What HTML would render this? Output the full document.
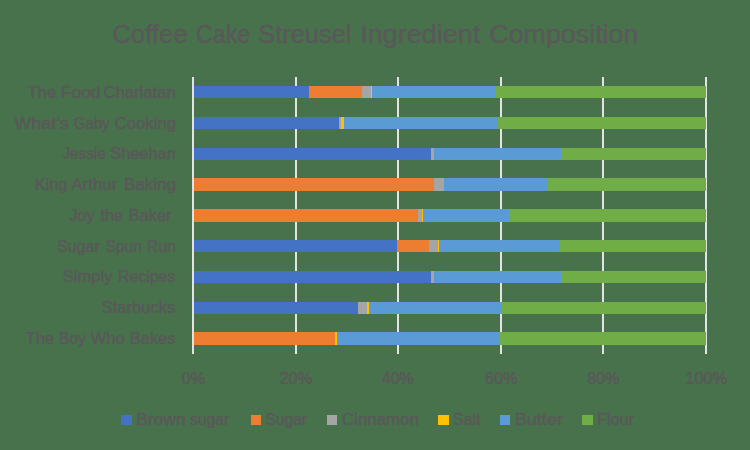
<!DOCTYPE html>
<html><head><meta charset="utf-8"><title>Coffee Cake Streusel Ingredient Composition</title>
<style>html,body{margin:0;padding:0;background:#48724C;}body{width:750px;height:450px;overflow:hidden;}svg{display:block;}text{font-family:"Liberation Sans",sans-serif;fill:#595959;stroke:#595959;stroke-width:0.5;stroke-linejoin:round;}</style></head><body>
<svg width="750" height="450" viewBox="0 0 750 450">
<rect x="0" y="0" width="750" height="450" fill="#48724C"/>
<g shape-rendering="crispEdges">
<rect x="295" y="77" width="2" height="277" fill="#E3E3E3"/>
<rect x="397" y="77" width="2" height="277" fill="#E3E3E3"/>
<rect x="500" y="77" width="2" height="277" fill="#E3E3E3"/>
<rect x="602" y="77" width="2" height="277" fill="#E3E3E3"/>
<rect x="705" y="77" width="2" height="277" fill="#E3E3E3"/>
<rect x="194" y="86" width="115" height="12" fill="#4472C4"/>
<rect x="309" y="86" width="53" height="12" fill="#ED7D31"/>
<rect x="362" y="86" width="9" height="12" fill="#A5A5A5"/>
<rect x="371" y="86" width="1" height="12" fill="#FFC000"/>
<rect x="372" y="86" width="123" height="12" fill="#5B9BD5"/>
<rect x="495" y="86" width="211" height="12" fill="#70AD47"/>
<rect x="194" y="117" width="145" height="12" fill="#4472C4"/>
<rect x="339" y="117" width="2" height="12" fill="#A5A5A5"/>
<rect x="341" y="117" width="3" height="12" fill="#FFC000"/>
<rect x="344" y="117" width="154" height="12" fill="#5B9BD5"/>
<rect x="498" y="117" width="208" height="12" fill="#70AD47"/>
<rect x="194" y="148" width="237" height="12" fill="#4472C4"/>
<rect x="431" y="148" width="3" height="12" fill="#A5A5A5"/>
<rect x="434" y="148" width="127" height="12" fill="#5B9BD5"/>
<rect x="561" y="148" width="145" height="12" fill="#70AD47"/>
<rect x="194" y="178" width="240" height="13" fill="#ED7D31"/>
<rect x="434" y="178" width="10" height="13" fill="#A5A5A5"/>
<rect x="444" y="178" width="104" height="13" fill="#5B9BD5"/>
<rect x="548" y="178" width="158" height="13" fill="#70AD47"/>
<rect x="194" y="209" width="224" height="13" fill="#ED7D31"/>
<rect x="418" y="209" width="4" height="13" fill="#A5A5A5"/>
<rect x="422" y="209" width="1" height="13" fill="#FFC000"/>
<rect x="423" y="209" width="86" height="13" fill="#5B9BD5"/>
<rect x="509" y="209" width="197" height="13" fill="#70AD47"/>
<rect x="194" y="240" width="203" height="12" fill="#4472C4"/>
<rect x="397" y="240" width="32" height="12" fill="#ED7D31"/>
<rect x="429" y="240" width="9" height="12" fill="#A5A5A5"/>
<rect x="438" y="240" width="1" height="12" fill="#FFC000"/>
<rect x="439" y="240" width="120" height="12" fill="#5B9BD5"/>
<rect x="559" y="240" width="147" height="12" fill="#70AD47"/>
<rect x="194" y="271" width="237" height="12" fill="#4472C4"/>
<rect x="431" y="271" width="3" height="12" fill="#A5A5A5"/>
<rect x="434" y="271" width="127" height="12" fill="#5B9BD5"/>
<rect x="561" y="271" width="145" height="12" fill="#70AD47"/>
<rect x="194" y="302" width="164" height="12" fill="#4472C4"/>
<rect x="358" y="302" width="9" height="12" fill="#A5A5A5"/>
<rect x="367" y="302" width="2" height="12" fill="#FFC000"/>
<rect x="369" y="302" width="132" height="12" fill="#5B9BD5"/>
<rect x="501" y="302" width="205" height="12" fill="#70AD47"/>
<rect x="194" y="332" width="141" height="13" fill="#ED7D31"/>
<rect x="335" y="332" width="2" height="13" fill="#FFC000"/>
<rect x="337" y="332" width="162" height="13" fill="#5B9BD5"/>
<rect x="499" y="332" width="207" height="13" fill="#70AD47"/>
<rect x="192" y="77" width="2" height="277" fill="#E3E3E3"/>
</g>
<rect x="121" y="415" width="11" height="10" fill="#4472C4" shape-rendering="crispEdges"/>
<rect x="251" y="415" width="10" height="10" fill="#ED7D31" shape-rendering="crispEdges"/>
<rect x="327" y="415" width="10" height="10" fill="#A5A5A5" shape-rendering="crispEdges"/>
<rect x="438" y="415" width="11" height="10" fill="#FFC000" shape-rendering="crispEdges"/>
<rect x="500" y="415" width="10" height="10" fill="#5B9BD5" shape-rendering="crispEdges"/>
<rect x="582" y="415" width="11" height="10" fill="#70AD47" shape-rendering="crispEdges"/>
<text x="112.17" y="42.6" font-size="25.2" textLength="75.60" lengthAdjust="spacingAndGlyphs">Coffee</text>
<text x="195.97" y="42.6" font-size="25.2" textLength="54.21" lengthAdjust="spacingAndGlyphs">Cake</text>
<text x="258.22" y="42.6" font-size="25.2" textLength="93.31" lengthAdjust="spacingAndGlyphs">Streusel</text>
<text x="360.31" y="42.6" font-size="25.2" textLength="120.09" lengthAdjust="spacingAndGlyphs">Ingredient</text>
<text x="489.28" y="42.6" font-size="25.2" textLength="149.15" lengthAdjust="spacingAndGlyphs">Composition</text>
<text x="27.40" y="97.8" font-size="16.75" textLength="28.61" lengthAdjust="spacingAndGlyphs">The</text>
<text x="60.74" y="97.8" font-size="16.75" textLength="39.85" lengthAdjust="spacingAndGlyphs">Food</text>
<text x="103.49" y="97.8" font-size="16.75" textLength="72.27" lengthAdjust="spacingAndGlyphs">Charlatan</text>
<text x="14.35" y="128.6" font-size="16.75" textLength="54.45" lengthAdjust="spacingAndGlyphs">What&#39;s</text>
<text x="73.69" y="128.6" font-size="16.75" textLength="35.96" lengthAdjust="spacingAndGlyphs">Gaby</text>
<text x="114.49" y="128.6" font-size="16.75" textLength="61.58" lengthAdjust="spacingAndGlyphs">Cooking</text>
<text x="62.40" y="159.3" font-size="16.75" textLength="43.31" lengthAdjust="spacingAndGlyphs">Jessie</text>
<text x="110.29" y="159.3" font-size="16.75" textLength="65.47" lengthAdjust="spacingAndGlyphs">Sheehan</text>
<text x="34.64" y="190.1" font-size="16.75" textLength="32.66" lengthAdjust="spacingAndGlyphs">King</text>
<text x="71.35" y="190.1" font-size="16.75" textLength="45.95" lengthAdjust="spacingAndGlyphs">Arthur</text>
<text x="123.96" y="190.1" font-size="16.75" textLength="52.12" lengthAdjust="spacingAndGlyphs">Baking</text>
<text x="69.40" y="220.8" font-size="16.75" textLength="25.05" lengthAdjust="spacingAndGlyphs">Joy</text>
<text x="100.50" y="220.8" font-size="16.75" textLength="22.71" lengthAdjust="spacingAndGlyphs">the</text>
<text x="128.48" y="220.8" font-size="16.75" textLength="43.13" lengthAdjust="spacingAndGlyphs">Baker</text>
<text x="56.89" y="251.6" font-size="16.75" textLength="42.91" lengthAdjust="spacingAndGlyphs">Sugar</text>
<text x="105.18" y="251.6" font-size="16.75" textLength="37.01" lengthAdjust="spacingAndGlyphs">Spun</text>
<text x="146.63" y="251.6" font-size="16.75" textLength="29.28" lengthAdjust="spacingAndGlyphs">Run</text>
<text x="62.80" y="282.3" font-size="16.75" textLength="49.65" lengthAdjust="spacingAndGlyphs">Simply</text>
<text x="117.98" y="282.3" font-size="16.75" textLength="57.38" lengthAdjust="spacingAndGlyphs">Recipes</text>
<text x="101.59" y="313.1" font-size="16.75" textLength="73.76" lengthAdjust="spacingAndGlyphs">Starbucks</text>
<text x="25.50" y="343.8" font-size="16.75" textLength="28.61" lengthAdjust="spacingAndGlyphs">The</text>
<text x="58.67" y="343.8" font-size="16.75" textLength="27.38" lengthAdjust="spacingAndGlyphs">Boy</text>
<text x="90.75" y="343.8" font-size="16.75" textLength="34.05" lengthAdjust="spacingAndGlyphs">Who</text>
<text x="129.87" y="343.8" font-size="16.75" textLength="45.49" lengthAdjust="spacingAndGlyphs">Bakes</text>
<text x="181.48" y="383.8" font-size="16.75" textLength="23.78" lengthAdjust="spacingAndGlyphs">0%</text>
<text x="279.49" y="383.8" font-size="16.75" textLength="32.78" lengthAdjust="spacingAndGlyphs">20%</text>
<text x="381.75" y="383.8" font-size="16.75" textLength="32.11" lengthAdjust="spacingAndGlyphs">40%</text>
<text x="485.08" y="383.8" font-size="16.75" textLength="32.43" lengthAdjust="spacingAndGlyphs">60%</text>
<text x="587.49" y="383.8" font-size="16.75" textLength="31.77" lengthAdjust="spacingAndGlyphs">80%</text>
<text x="684.97" y="383.8" font-size="16.75" textLength="42.29" lengthAdjust="spacingAndGlyphs">100%</text>
<text x="135.95" y="424.8" font-size="16.75" textLength="49.83" lengthAdjust="spacingAndGlyphs">Brown</text>
<text x="189.75" y="424.8" font-size="16.75" textLength="39.55" lengthAdjust="spacingAndGlyphs">sugar</text>
<text x="265.49" y="424.8" font-size="16.75" textLength="41.51" lengthAdjust="spacingAndGlyphs">Sugar</text>
<text x="342.09" y="424.8" font-size="16.75" textLength="76.67" lengthAdjust="spacingAndGlyphs">Cinnamon</text>
<text x="453.09" y="424.8" font-size="16.75" textLength="27.51" lengthAdjust="spacingAndGlyphs">Salt</text>
<text x="514.72" y="424.8" font-size="16.75" textLength="48.28" lengthAdjust="spacingAndGlyphs">Butter</text>
<text x="596.97" y="424.8" font-size="16.75" textLength="37.03" lengthAdjust="spacingAndGlyphs">Flour</text>
</svg></body></html>
